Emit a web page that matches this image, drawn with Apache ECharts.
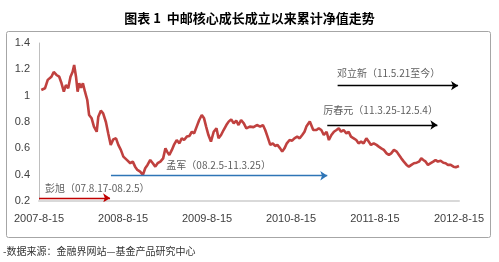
<!DOCTYPE html>
<html>
<head>
<meta charset="utf-8">
<script src="https://cdn.jsdelivr.net/npm/echarts@6/dist/echarts.min.js"></script>
<style>
html,body{margin:0;padding:0;background:#fff;}
#c{width:499px;height:262px;}
</style>
</head>
<body>
<div id="c"></div>
<script>
// ---- data ----
var titleText = '图表 1  中邮核心成长成立以来累计净值走势';
var sourceText = '-数据来源：金融界网站—基金产品研究中心';
var xTickDates = ['2007-08-15','2008-08-15','2009-08-15','2010-08-15','2011-08-15','2012-08-15'];
var xTickLabels = ['2007-8-15','2008-8-15','2009-8-15','2010-8-15','2011-8-15','2012-8-15'];
var yTickLabels = [0.2,0.4,0.6,0.8,1,1.2,1.4];

var navDates = [
'2007-08-25','2007-09-10','2007-09-22','2007-10-08','2007-10-18','2007-10-30','2007-11-11','2007-11-21','2007-12-01','2007-12-10',
'2007-12-20','2007-12-30','2008-01-08','2008-01-15','2008-01-23','2008-01-30','2008-02-06','2008-02-14','2008-02-22','2008-03-02',
'2008-03-12','2008-03-20','2008-03-31','2008-04-10','2008-04-22','2008-04-29','2008-05-10','2008-05-20','2008-06-01','2008-06-11',
'2008-06-22','2008-07-03','2008-07-15','2008-07-25','2008-08-05','2008-08-16','2008-08-31','2008-09-15','2008-09-26','2008-10-06',
'2008-10-16','2008-10-28','2008-11-09','2008-11-19','2008-11-29','2008-12-11','2008-12-22','2009-01-02','2009-01-12','2009-01-24',
'2009-02-05','2009-02-15','2009-02-22','2009-03-04','2009-03-15','2009-03-24','2009-04-05','2009-04-17','2009-04-27','2009-05-07',
'2009-05-19','2009-05-30','2009-06-10','2009-06-20','2009-07-01','2009-07-12','2009-07-23','2009-08-02','2009-08-11','2009-08-21',
'2009-09-01','2009-09-13','2009-09-25','2009-10-04','2009-10-15','2009-10-26','2009-11-07','2009-11-17','2009-11-28','2009-12-09',
'2009-12-20','2009-12-30','2010-01-10','2010-01-22','2010-02-02','2010-02-17','2010-03-05','2010-03-20','2010-04-03','2010-04-15',
'2010-04-25','2010-05-05','2010-05-17','2010-05-28','2010-06-07','2010-06-17','2010-06-29','2010-07-08','2010-07-18','2010-07-28',
'2010-08-09','2010-08-20','2010-08-30','2010-09-11','2010-09-22','2010-10-03','2010-10-13','2010-10-21','2010-10-27','2010-11-05',
'2010-11-13','2010-11-20','2010-11-27','2010-12-04','2010-12-14','2010-12-25','2011-01-05','2011-01-17','2011-01-27','2011-02-07',
'2011-02-18','2011-03-01','2011-03-11','2011-03-21','2011-04-01','2011-04-13','2011-04-23','2011-05-03','2011-05-15','2011-05-26',
'2011-06-05','2011-06-16','2011-06-27','2011-07-09','2011-07-19','2011-07-29','2011-08-10','2011-08-22','2011-09-01','2011-09-12',
'2011-09-23','2011-10-05','2011-10-15','2011-10-25','2011-11-06','2011-11-18','2011-11-28','2011-12-08','2011-12-19','2011-12-31',
'2012-01-10','2012-01-21','2012-02-01','2012-02-13','2012-02-23','2012-03-04','2012-03-13','2012-03-23','2012-04-02','2012-04-14',
'2012-04-25','2012-05-05','2012-05-15','2012-05-27','2012-06-08','2012-06-18','2012-06-28','2012-07-10','2012-07-22','2012-08-01',
'2012-08-15'
];
var navValues = [
1.043,1.056,1.12,1.144,1.18,1.157,1.144,1.094,1.03,1.08,
1.056,1.144,1.18,1.233,1.144,1.03,1.094,1.06,1.094,1.03,
0.967,0.853,0.828,0.765,0.726,0.84,0.886,0.866,0.80,0.714,
0.626,0.668,0.676,0.626,0.588,0.537,0.512,0.487,0.499,0.461,
0.436,0.423,0.398,0.449,0.474,0.512,0.487,0.461,0.487,0.499,
0.524,0.60,0.575,0.55,0.588,0.626,0.663,0.638,0.676,0.663,
0.689,0.694,0.726,0.714,0.765,0.815,0.853,0.828,0.765,0.701,
0.651,0.726,0.752,0.676,0.701,0.739,0.777,0.803,0.82,0.79,
0.81,0.777,0.815,0.79,0.752,0.765,0.761,0.777,0.765,0.777,
0.739,0.689,0.626,0.638,0.618,0.626,0.60,0.575,0.60,0.638,
0.663,0.658,0.676,0.689,0.676,0.701,0.726,0.765,0.777,0.803,
0.79,0.739,0.752,0.739,0.752,0.739,0.701,0.726,0.663,0.701,
0.726,0.739,0.752,0.726,0.739,0.714,0.726,0.689,0.676,0.663,
0.638,0.651,0.638,0.676,0.651,0.626,0.638,0.626,0.613,0.60,
0.588,0.562,0.55,0.562,0.588,0.575,0.55,0.524,0.499,0.474,
0.461,0.474,0.487,0.491,0.499,0.524,0.512,0.499,0.474,0.487,
0.499,0.512,0.499,0.506,0.491,0.487,0.474,0.474,0.461,0.456,
0.466
];

// manager annotations
var managerLabels = ['彭旭（07.8.17-08.2.5）','孟军（08.2.5-11.3.25）','厉春元（11.3.25-12.5.4）','邓立新（11.5.21至今）'];
var arrowStartDates = ['2007-08-15','2008-06-23','2011-01-20','2011-03-06'];
var arrowEndDates = ['2008-06-19','2011-01-20','2012-05-13','2012-08-11'];
var arrowLevels = [0.223,0.392,0.777,1.076];
var labelDates = ['2007-09-10','2009-02-19','2011-01-03','2011-03-03'];
var labelLevels = [0.299,0.474,0.891,1.170];

// ---- build ----
var origin = Date.UTC(2007,7,15);
function dayOf(s){var p=s.split('-');return (Date.UTC(+p[0],+p[1]-1,+p[2])-origin)/86400000;}
var tickDays = xTickDates.map(dayOf);
var lineData = navDates.map(function(d,i){return [dayOf(d), navValues[i]];});
var arrowColors = ['#c00000','#2e75b6','#000000','#000000'];
var arrowData = managerLabels.map(function(n,i){
  return {coords:[[dayOf(arrowStartDates[i]),arrowLevels[i]],[dayOf(arrowEndDates[i]),arrowLevels[i]]],
          lineStyle:{color:arrowColors[i]}};
});
var labelData = managerLabels.map(function(n,i){return {value:[dayOf(labelDates[i]),labelLevels[i]], name:n};});

var chart = echarts.init(document.getElementById('c'), null, {renderer:'canvas'});
chart.setOption({
  animation:false,
  backgroundColor:'#fff',
  title:{text:titleText,left:'center',top:7,textStyle:{fontFamily:'Noto Sans CJK SC',fontSize:13,fontWeight:'bold',color:'#000'}},
  graphic:[
    {type:'rect',shape:{x:6.5,y:31.5,width:484,height:206,r:2},style:{fill:'none',stroke:'#a6a6a6',lineWidth:1}},
    {type:'text',left:3,top:246,style:{text:sourceText,font:'10px "Noto Sans CJK SC"',fill:'#333'}}
  ],
  grid:{left:39,right:40,top:43,bottom:61},
  xAxis:{type:'value',min:0,max:tickDays[tickDays.length-1],
    splitLine:{show:false},
    axisLine:{show:true,lineStyle:{color:'#d9d9d9',width:2}},
    axisTick:{show:false},
    axisLabel:{customValues:tickDays,margin:12,fontFamily:'Liberation Sans',fontSize:11,color:'#404040',
      formatter:function(v){var i=tickDays.indexOf(v);return i>=0?xTickLabels[i]:'';}}
  },
  yAxis:{type:'value',min:yTickLabels[0],max:yTickLabels[yTickLabels.length-1],interval:0.2,
    splitLine:{show:false},
    axisLine:{show:true,lineStyle:{color:'#bfbfbf',width:1}},
    axisTick:{show:false},
    axisLabel:{margin:9,fontFamily:'Liberation Sans',fontSize:11,color:'#404040'}
  },
  series:[
    {type:'line',data:lineData,showSymbol:false,symbol:'none',lineStyle:{color:'#c0413f',width:2.6},z:3},
    {type:'lines',coordinateSystem:'cartesian2d',data:arrowData,symbol:['none','arrow'],symbolSize:7,
      lineStyle:{width:1.3,opacity:1},z:4},
    {type:'scatter',data:labelData,symbolSize:0,z:5,
      label:{show:true,position:'right',distance:0,formatter:function(p){return p.name;},
        fontFamily:'Noto Sans CJK SC',fontSize:10,color:'#333'}}
  ]
});
</script>
</body>
</html>
